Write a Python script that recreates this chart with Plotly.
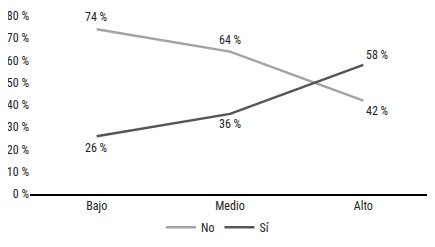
import plotly.graph_objects as go

categories = ["Bajo", "Medio", "Alto"]
no_values = [74, 64, 42]
si_values = [26, 36, 58]
tick_values = [0, 10, 20, 30, 40, 50, 60, 70, 80]
tick_labels = [f"{v} %" for v in tick_values]

FONT = "Liberation Sans Narrow, Roboto Condensed, DejaVu Sans Condensed, Arial Narrow, sans-serif"
TXT = "#222222"
FS = 12

fig = go.Figure()
fig.add_trace(go.Scatter(
    x=categories, y=no_values, name="No", mode="lines",
    line=dict(color="#a3a3a3", width=2.5),
))
fig.add_trace(go.Scatter(
    x=categories, y=si_values, name="Sí", mode="lines",
    line=dict(color="#555555", width=2.5),
))

no_shift = [(0, 12), (0, 12), (14, -10)]
si_shift = [(0, -12), (0, -10), (14, 10)]
for cat, v, (dx, dy) in zip(categories, no_values, no_shift):
    fig.add_annotation(x=cat, y=v, xref="x", yref="y", text=f"{v} %", showarrow=False,
                       xshift=dx, yshift=dy, font=dict(family=FONT, size=FS, color=TXT))
for cat, v, (dx, dy) in zip(categories, si_values, si_shift):
    fig.add_annotation(x=cat, y=v, xref="x", yref="y", text=f"{v} %", showarrow=False,
                       xshift=dx, yshift=dy, font=dict(family=FONT, size=FS, color=TXT))

fig.update_layout(
    width=427, height=239,
    margin=dict(l=22, r=5, t=8, b=49),
    paper_bgcolor="white", plot_bgcolor="white",
    font=dict(family=FONT, size=FS, color=TXT),
    showlegend=True,
    legend=dict(orientation="h", x=0.47, xanchor="center", y=-0.187, yanchor="middle",
                font=dict(family=FONT, size=FS, color=TXT),
                itemwidth=30, tracegroupgap=0),
    xaxis=dict(range=[-0.5, 2.5], showgrid=False, showline=True, linecolor="black", linewidth=1.5,
               ticks="", tickfont=dict(size=FS), zeroline=False),
    yaxis=dict(range=[0, 80], tickmode="array", tickvals=tick_values, ticktext=tick_labels,
               showgrid=False, zeroline=False, showline=False, ticks="",
               tickfont=dict(size=FS), automargin=False),
)

fig.write_html("out.html")
